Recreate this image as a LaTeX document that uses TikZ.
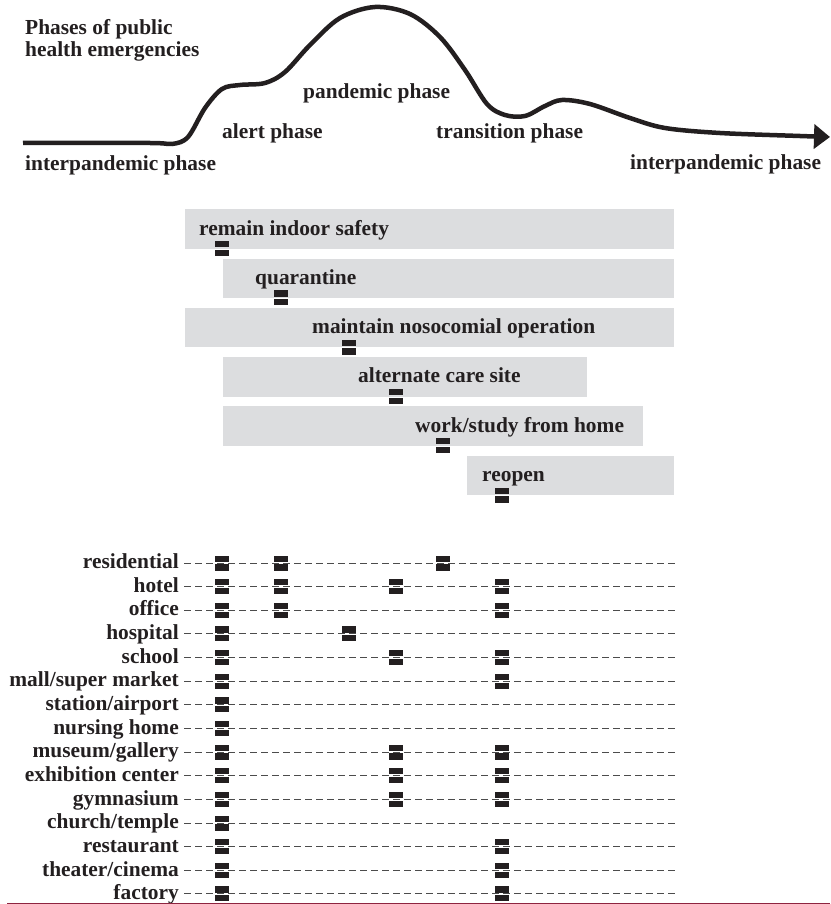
\documentclass[tikz,border=0pt]{standalone}
\usepackage{fontspec}
\setmainfont{Liberation Serif}
\usetikzlibrary{arrows.meta}
\definecolor{bargrey}{HTML}{DCDDDF}
\definecolor{inkblack}{HTML}{231F20}
\definecolor{rulered}{HTML}{8E2440}

\begin{document}
\begin{tikzpicture}[x=1pt, y=-1pt,
  every node/.style={inner sep=0pt, text=inkblack, font=\bfseries\fontsize{21.4}{22}\selectfont},
  lbl/.style={anchor=base west},
  bar/.style={fill=bargrey, anchor=north west, minimum height=39.5pt},
  twobar/.style={minimum width=14pt, minimum height=15pt, path picture={
      \fill[inkblack] (path picture bounding box.north west) rectangle ([yshift=1.3pt]path picture bounding box.east);
      \fill[inkblack] ([yshift=-1.3pt]path picture bounding box.west) rectangle (path picture bounding box.south east);}},
  rowline/.style={draw=black!70, line width=1pt, dash pattern=on 7pt off 4pt}]

  \useasboundingbox (0,0) rectangle (830,904);

  % phase curve
  \draw[inkblack, line width=4.5pt, -{Triangle[length=16pt, width=24pt]}]
    plot[smooth, tension=0.55] coordinates {(23,143) (150,143) (172,144) (188,137) (205,108) (222,89)
      (240,85) (265,83) (285,72) (310,45) (340,18) (375,7) (410,14) (440,37) (465,70) (487,104)
      (505,115) (525,116) (545,106) (562,100) (590,104) (630,118) (665,128) (720,133) (800,136) (830,137)};

  \node[lbl, align=left] (title) at (25,57) {Phases of public\\health emergencies};
  \node[lbl] (inter1) at (25,171) {interpandemic phase};
  \node[lbl] (alert) at (222,139) {alert phase};
  \node[lbl] (pandemic) at (303,99) {pandemic phase};
  \node[lbl] (transition) at (436,138.5) {transition phase};
  \node[lbl] (inter2) at (630,170) {interpandemic phase};

  % measures
  \foreach \x/\w/\tx/\mx/\txt [count=\i] in {185/489/199/222/{remain indoor safety},
      223/451/255/281/{quarantine}, 185/489/312/349/{maintain nosocomial operation},
      223/364/358/396/{alternate care site}, 223/420/415/443/{work/study from home},
      467/207/482/502/{reopen}} {
    \node[bar, minimum width={\w*1pt}] (bar\i) at (\x, {209+49.3*(\i-1)}) {};
    \node[lbl] (act\i) at (\tx, {235+49.3*(\i-1)}) {\txt};
    \node[twobar] (p\i) at (\mx, {248.5+49.3*(\i-1)}) {};
  }

  % buildings
  \coordinate (tabend) at (675,0);
  \foreach \name [count=\i] in {residential, hotel, office, hospital, school, mall/super market,
      station/airport, nursing home, museum/gallery, exhibition center, gymnasium, church/temple,
      restaurant, theater/cinema, factory} {
    \coordinate (l\i) at (184, {563+23.64*(\i-1)});
    \node[anchor=base east] (r\i) at ([shift={(-5,5.7)}]l\i) {\name};
    \draw[rowline] (l\i) -- (l\i -| tabend);
  }
  \foreach \r/\cols in {1/{1,2,5}, 2/{1,2,4,6}, 3/{1,2,6}, 4/{1,3}, 5/{1,4,6}, 6/{1,6}, 7/{1},
      8/{1}, 9/{1,4,6}, 10/{1,4,6}, 11/{1,4,6}, 12/{1}, 13/{1,6}, 14/{1,6}, 15/{1,6}}
    \foreach \c in \cols
      \node[twobar] (m\r-\c) at (p\c |- l\r) {};

  \draw[rulered, line width=1.3pt] (7,903.4) -- (830,903.4);
\end{tikzpicture}
\end{document}
